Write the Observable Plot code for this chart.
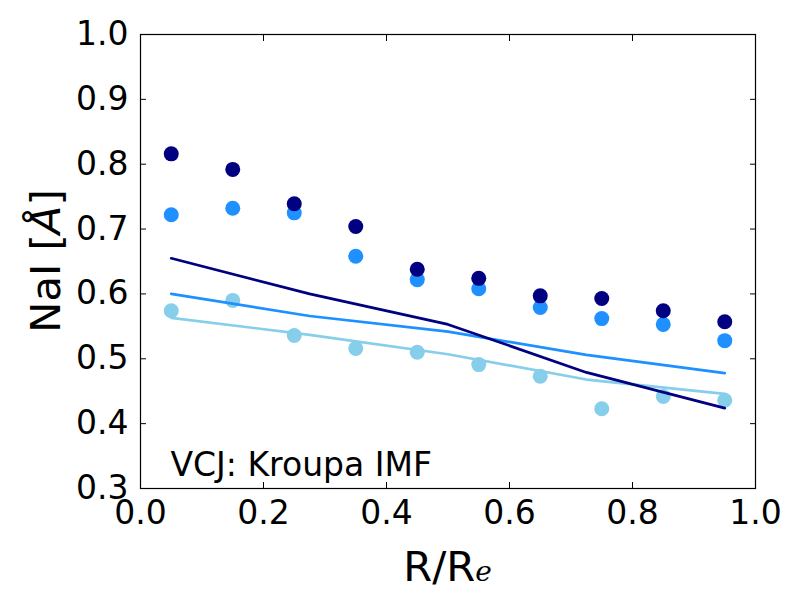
<!DOCTYPE html>
<html>
<head>
<meta charset="utf-8">
<script src="https://cdn.jsdelivr.net/npm/d3@7"></script>
<script src="https://cdn.jsdelivr.net/npm/@observablehq/plot@0.6"></script>
<style>
  html, body { margin: 0; padding: 0; background: white; }
</style>
</head>
<body>
<div id="chart"></div>
<script>
// Data
const radii = [0.05, 0.15, 0.25, 0.35, 0.45, 0.55, 0.65, 0.75, 0.85, 0.95];
const navyPoints = [0.816, 0.792, 0.739, 0.704, 0.638, 0.624, 0.597, 0.593, 0.574, 0.557];
const bluePoints = [0.722, 0.732, 0.725, 0.658, 0.622, 0.608, 0.579, 0.562, 0.553, 0.528];
const skyPoints  = [0.574, 0.590, 0.536, 0.516, 0.510, 0.491, 0.473, 0.423, 0.442, 0.436];

const lineRadii = [0.05, 0.275, 0.5, 0.725, 0.95];
const navyLine = [0.655, 0.600, 0.553, 0.479, 0.424];
const blueLine = [0.600, 0.566, 0.542, 0.506, 0.478];
const skyLine  = [0.563, 0.537, 0.507, 0.468, 0.446];

const xTicks = [0.0, 0.2, 0.4, 0.6, 0.8, 1.0];
const yTicks = [0.3, 0.4, 0.5, 0.6, 0.7, 0.8, 0.9, 1.0];
const annotation = ["VCJ: Kroupa IMF"];

const colors = { navy: "#000080", blue: "#1e90ff", sky: "#87ceeb" };

const toPts = (ys, xs) => ys.map((y, i) => ({ x: xs[i], y }));
const fmt = d3.format(".1f");
const blank = () => "";

const W = 800, H = 600;
const mL = 140, mR = 45, mT = 34, mB = 112;

const chart = Plot.plot({
  width: W,
  height: H,
  marginLeft: mL,
  marginRight: mR,
  marginTop: mT,
  marginBottom: mB,
  style: { fontFamily: "DejaVu Sans", fontSize: "33px", background: "white", color: "black" },
  x: { domain: [0, 1], label: null },
  y: { domain: [0.3, 1.0], label: null },
  marks: [
    Plot.dot(toPts(skyPoints, radii), { x: "x", y: "y", r: 7.5, fill: colors.sky, stroke: null }),
    Plot.dot(toPts(bluePoints, radii), { x: "x", y: "y", r: 7.5, fill: colors.blue, stroke: null }),
    Plot.dot(toPts(navyPoints, radii), { x: "x", y: "y", r: 7.5, fill: colors.navy, stroke: null }),
    Plot.line(toPts(skyLine, lineRadii), { x: "x", y: "y", stroke: colors.sky, strokeWidth: 2.7 }),
    Plot.line(toPts(blueLine, lineRadii), { x: "x", y: "y", stroke: colors.blue, strokeWidth: 2.7 }),
    Plot.line(toPts(navyLine, lineRadii), { x: "x", y: "y", stroke: colors.navy, strokeWidth: 2.7 }),
    Plot.text(annotation, { text: d => d, frameAnchor: "bottom-left", textAnchor: "start", lineAnchor: "bottom", dx: 30, dy: -13, fontSize: 33, fill: "black" }),
    // inward ticks on all four sides
    Plot.axisX(xTicks, { anchor: "bottom", tickSize: -6, tickFormat: blank, label: null }),
    Plot.axisX(xTicks, { anchor: "top", tickSize: -6, tickFormat: blank, label: null }),
    Plot.axisY(yTicks, { anchor: "left", tickSize: -6, tickFormat: blank, label: null }),
    Plot.axisY(yTicks, { anchor: "right", tickSize: -6, tickFormat: blank, label: null }),
    // tick labels
    Plot.axisX(xTicks, { anchor: "bottom", tickSize: 0, tickPadding: 12, tickFormat: fmt, fontSize: 33, label: null }),
    Plot.axisY(yTicks, { anchor: "left", tickSize: 0, tickPadding: 12, tickFormat: fmt, fontSize: 33, label: null }),
    Plot.frame({ stroke: "black", strokeWidth: 1.2 })
  ]
});

document.getElementById("chart").appendChild(chart);

// Axis labels with math-style parts
const svg = d3.select(chart);
const plotCx = mL + (W - mL - mR) / 2;
const plotCy = mT + (H - mT - mB) / 2;

const xl = svg.append("text")
  .attr("x", plotCx)
  .attr("y", 581)
  .attr("text-anchor", "middle")
  .attr("font-family", "DejaVu Sans")
  .attr("font-size", 41.7)
  .attr("fill", "black");
xl.append("tspan").text("R/R");
xl.append("tspan")
  .attr("font-family", "DejaVu Serif")
  .attr("font-style", "italic")
  .attr("font-size", 28)
  .attr("dy", 0)
  .text("e");

const yl = svg.append("text")
  .attr("transform", `translate(60,${plotCy}) rotate(-90)`)
  .attr("text-anchor", "middle")
  .attr("font-family", "DejaVu Sans")
  .attr("font-size", 41.7)
  .attr("fill", "black");
yl.append("tspan").text("NaI [");
yl.append("tspan").attr("font-style", "italic").text("Å");
yl.append("tspan").text("]");
</script>
</body>
</html>
